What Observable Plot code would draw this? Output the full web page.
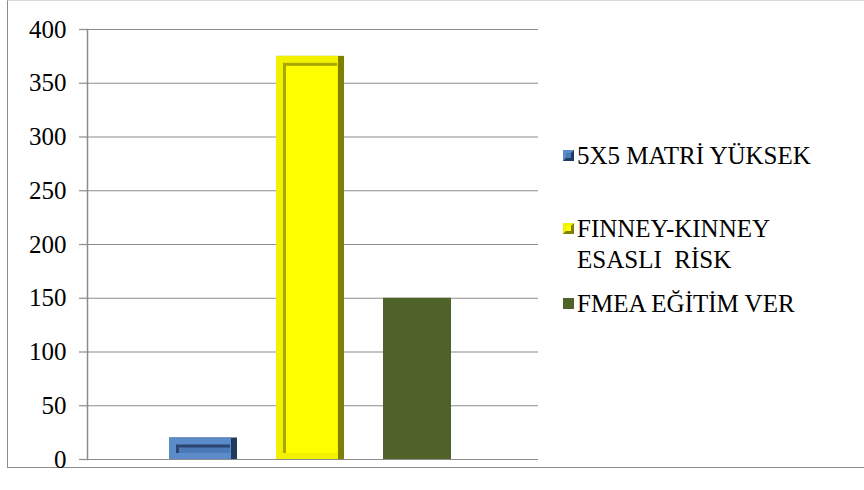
<!DOCTYPE html>
<html>
<head>
<meta charset="utf-8">
<script src="https://cdn.jsdelivr.net/npm/d3@7"></script>
<script src="https://cdn.jsdelivr.net/npm/@observablehq/plot@0.6"></script>
<style>
  html, body { margin: 0; padding: 0; background: #fff; }
  #wrap { position: relative; width: 864px; height: 490px; overflow: hidden; }
  #border { position: absolute; left: 7px; top: 0px; width: 900px; height: 466px; border-left: 1px solid #8c8c8c; border-bottom: 1px solid #8c8c8c; border-top: 1px solid #d9d9d9; }
  #chart { position: absolute; left: 0; top: 0; }
  .legend { position: absolute; left: 563px; top: 0; color: #000; }
  .item { position: absolute; left: 0; display: flex; align-items: flex-start; white-space: pre; }
  .sw { width: 11px; height: 11px; margin-right: 3px; box-sizing: border-box; flex: none; }
</style>
</head>
<body>
<div id="wrap">
  <div id="border"></div>
  <div id="chart"></div>
  <div class="legend" id="legend"></div>
</div>
<script>
const series = ["5X5 MATRİ YÜKSEK", "FINNEY-KINNEY ESASLI  RİSK", "FMEA EĞİTİM VER"];
const legendLines = [["5X5 MATRİ YÜKSEK"], ["FINNEY-KINNEY", "ESASLI  RİSK"], ["FMEA EĞİTİM VER"]];
const values = [20, 375, 150];
const faceColors = ["#4a7ab6", "#ffff00", "#4f6228"];
const leftColors = ["#5b8bc8", "#f2f200", "#4f6228"];
const rightColors = ["#1f3b5e", "#7f7f00", "#4f6228"];
const shadowColors = ["#2a4670", "#a8a800", "#4f6228"];
const bevel = [true, true, false];
const yTicks = [0, 50, 100, 150, 200, 250, 300, 350, 400];
const FONT = "'Liberation Serif', serif";

const data = series.map((s, i) => ({
  series: s, value: values[i], face: faceColors[i], left: leftColors[i],
  right: rightColors[i], shadow: shadowColors[i], bevel: bevel[i]
}));
const bev = data.filter(d => d.bevel);
const flat = data.filter(d => !d.bevel);

const chart = Plot.plot({
  width: 864,
  height: 490,
  marginLeft: 87,
  marginRight: 326,
  marginTop: 29,
  marginBottom: 31,
  style: { background: "transparent", color: "#000" },
  x: { domain: series, range: [169, 451.6], paddingInner: 0.365, paddingOuter: 0, axis: null },
  y: { domain: [0, 400], ticks: yTicks, label: null },
  marks: [
    Plot.gridY(yTicks, { stroke: "#8c8c8c", strokeOpacity: 1, strokeWidth: 1.2 }),
    Plot.axisY(yTicks, { tickSize: 8, text: null, stroke: "#8c8c8c", strokeWidth: 1.2 }),
    Plot.axisY(yTicks, { tickSize: 0, tickPadding: 21, fill: "#000", fontSize: 25, fontFamily: "Liberation Serif", label: null }),
    Plot.frame({ anchor: "left", stroke: "#8c8c8c", strokeWidth: 1.5 }),
    Plot.barY(flat, { x: "series", y: "value", fill: d => d.face }),
    Plot.barY(bev, { x: "series", y: "value", fill: d => d.right }),
    Plot.barY(bev, { x: "series", y: "value", fill: d => d.left, insetRight: 6 }),
    Plot.barY(bev, { x: "series", y: "value", fill: d => d.shadow, insetLeft: 7, insetRight: 7, insetTop: 7, insetBottom: 6 }),
    Plot.barY(bev, { x: "series", y: "value", fill: d => d.face, insetLeft: 10, insetRight: 7, insetTop: 10, insetBottom: 6 })
  ]
});
chart.style.fontFamily = FONT;
chart.querySelectorAll("text").forEach(t => { t.style.fontFamily = FONT; });
document.getElementById("chart").appendChild(chart);

// legend
const legend = document.getElementById("legend");
legend.style.fontFamily = FONT;
legend.style.fontSize = "25px";
const tops = [140, 213, 288];
legendLines.forEach((lines, i) => {
  const item = document.createElement("div");
  item.className = "item";
  item.style.top = tops[i] + "px";
  const sw = document.createElement("div");
  sw.className = "sw";
  sw.style.marginTop = "10px";
  sw.style.background = faceColors[i];
  if (bevel[i]) {
    sw.style.borderStyle = "solid";
    sw.style.borderWidth = "3px";
    sw.style.borderColor = `${leftColors[i]} ${rightColors[i]} ${rightColors[i]} ${leftColors[i]}`;
  }
  const t = document.createElement("div");
  t.style.lineHeight = "31px";
  t.style.fontFamily = FONT;
  t.textContent = lines.join("\n");
  item.appendChild(sw);
  item.appendChild(t);
  legend.appendChild(item);
});
</script>
</body>
</html>
